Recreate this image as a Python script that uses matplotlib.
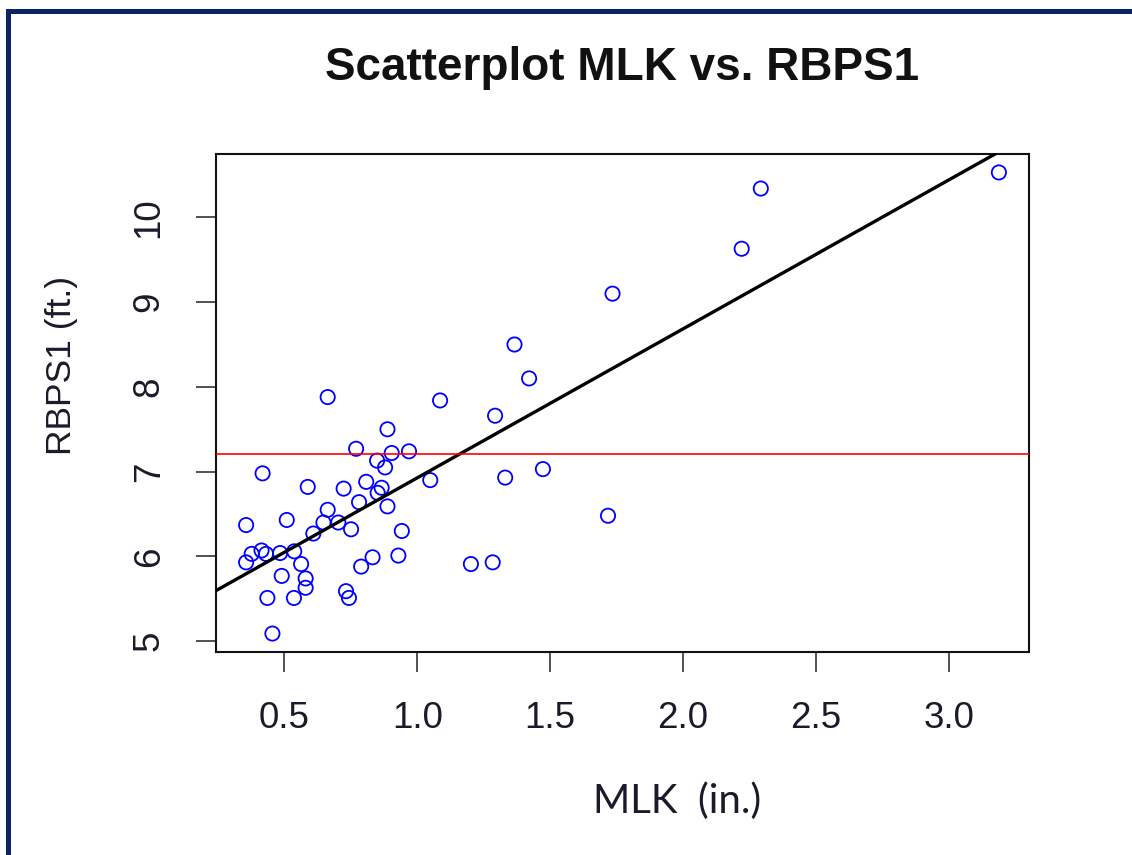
import matplotlib.pyplot as plt
import matplotlib.patches as mpatches
import numpy as np

# ── Data ──────────────────────────────────────────────────────────────────────
mlk = [0.663, 1.086, 0.888, 0.770, 0.904, 0.969, 0.849, 0.879, 0.418, 1.049,
       0.588, 0.723, 0.808, 0.866, 0.851, 0.781, 0.888, 0.663, 0.509, 0.356,
       0.647, 0.703, 0.751, 0.942, 0.609, 0.414, 0.377, 0.356, 0.431, 0.484,
       0.537, 0.563, 0.832, 0.929, 0.789, 1.202, 0.490, 0.580, 0.580, 0.436,
       0.536, 0.732, 0.743, 0.455, 1.366, 1.421, 1.293, 1.331, 1.473, 1.718,
       1.284, 1.735, 2.221, 2.293, 3.189]
rbps1 = [7.88, 7.84, 7.50, 7.27, 7.22, 7.24, 7.13, 7.05, 6.98, 6.90,
         6.82, 6.80, 6.88, 6.81, 6.75, 6.64, 6.59, 6.55, 6.43, 6.37,
         6.40, 6.40, 6.32, 6.30, 6.27, 6.07, 6.03, 5.93, 6.03, 6.04,
         6.06, 5.91, 5.99, 6.01, 5.88, 5.91, 5.77, 5.74, 5.63, 5.51,
         5.51, 5.59, 5.51, 5.09, 8.50, 8.10, 7.66, 6.93, 7.03, 6.48,
         5.93, 9.10, 9.63, 10.34, 10.53]

fit_intercept = 5.17
fit_slope     = 1.757
ref_level     = 7.21

x_ticks = [0.5, 1.0, 1.5, 2.0, 2.5, 3.0]
y_ticks = [5, 6, 7, 8, 9, 10]

# ── Figure ────────────────────────────────────────────────────────────────────
W, H = 1132, 855
fig = plt.figure(figsize=(W / 100, H / 100), dpi=100)
fig.patch.set_facecolor('white')

navy = '#0c2461'
fig.add_artist(mpatches.Rectangle((6 / W, 0), 5 / W, 1 - 9 / H, transform=fig.transFigure,
                                  facecolor=navy, edgecolor='none'))
fig.add_artist(mpatches.Rectangle((6 / W, 1 - 14 / H), 1 - 6 / W, 5 / H, transform=fig.transFigure,
                                  facecolor=navy, edgecolor='none'))

ax = fig.add_axes([216 / W, 1 - 652 / H, (1029 - 216) / W, (652 - 154) / H])

ax.scatter(mlk, rbps1, s=105, facecolors='none', edgecolors='#0000ff', linewidths=1.3, zorder=2)
ax.axline((0, fit_intercept), slope=fit_slope, color='black', lw=2.4, zorder=3)
ax.axhline(ref_level, color='#ff0000', lw=1.2, zorder=4)

# R-style 4% padding around the data
xr = max(mlk) - min(mlk)
yr = max(rbps1) - min(rbps1)
ax.set_xlim(min(mlk) - 0.04 * xr, max(mlk) + 0.04 * xr)
ax.set_ylim(min(rbps1) - 0.04 * yr, max(rbps1) + 0.04 * yr)

ax.set_xticks(x_ticks)
ax.set_xticklabels([f'{v:.1f}' for v in x_ticks])
ax.set_yticks(y_ticks)
ax.set_yticklabels([str(v) for v in y_ticks])

for s in ax.spines.values():
    s.set_linewidth(1.5)
    s.set_color('#111111')

ax.tick_params(axis='both', length=14.5, width=1.1, color='#222222',
               labelsize=26.5, labelcolor='#1a1a2a', labelfontfamily='Liberation Sans')
ax.tick_params(axis='x', pad=21)
ax.tick_params(axis='y', pad=21, labelrotation=90)
for lab in ax.get_yticklabels():
    lab.set_va('center')

fig.text(622 / W, 1 - 80 / H, 'Scatterplot MLK vs. RBPS1', ha='center', va='baseline',
         fontsize=33, fontweight='bold', family='Liberation Sans', color='#111111')
fig.text(61 / W, 1 - 365 / H, 'RBPS1 (ft.)', ha='center', va='center', rotation=90,
         fontsize=25.5, family='Liberation Sans', color='#1a1a2a')
fig.text(677 / W, 1 - 813 / H, 'MLK  (in.)', ha='center', va='baseline',
         fontsize=29, family='Lato', color='#1a1a2a')

plt.savefig('out.png', dpi=100, facecolor='white')
